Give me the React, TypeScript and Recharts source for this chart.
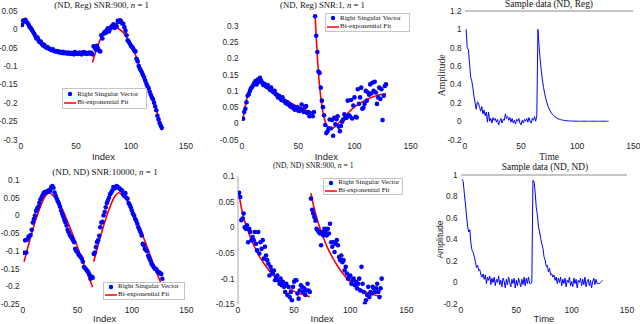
import React from "react";
import { ComposedChart, Scatter, Line, XAxis, YAxis, ReferenceLine } from "recharts";

// ── Data (index 1..128) ───────────────────────────────────────────────────────
const INDEX_TICKS = [0, 50, 100, 150];
const LEGEND_LABELS = ["Right Singular Vector", "Bi-exponential Fit"];

// (ND, Reg) SNR:900
const P1_VECTOR = [
  0.012, 0.024, 0.022, 0.026, 0.02, 0.017, 0.012, 0.006, 0.003, -0.002,
  -0.007, -0.012, -0.018, -0.025, -0.022, -0.03, -0.035, -0.033, -0.04, -0.044,
  -0.042, -0.047, -0.05, -0.048, -0.052, -0.053, -0.055, -0.057, -0.054, -0.058,
  -0.06, -0.059, -0.061, -0.06, -0.063, -0.062, -0.064, -0.061, -0.065, -0.063,
  -0.064, -0.066, -0.063, -0.065, -0.067, -0.064, -0.066, -0.068, -0.062, -0.065,
  -0.067, -0.064, -0.066, -0.063, -0.068, -0.065, -0.062, -0.066, -0.064, -0.067,
  -0.065, -0.063, -0.066, -0.064,
  -0.068, -0.046, -0.05, -0.055, -0.045, -0.052, -0.058, -0.06, -0.016, -0.025,
  -0.012, -0.007, -0.01, -0.002, 0.003, -0.006, 0.002, 0.006, 0.01, 0.014,
  0.004, 0.012, 0.008, 0.023, 0.02, 0.025, 0.022, 0.016, 0.015, 0.006,
  -0.004, -0.016, -0.03, -0.034, -0.039, -0.045, -0.048, -0.052, -0.058, -0.06,
  -0.08, -0.087, -0.1, -0.107, -0.112, -0.118, -0.125, -0.132, -0.14, -0.148,
  -0.155, -0.16, -0.17, -0.178, -0.185, -0.19, -0.2, -0.21, -0.22, -0.235,
  -0.245, -0.255, -0.262, -0.268,
];
const P1_FIT_A_X = [1, 3, 5, 8, 11, 14, 17, 20, 25, 30, 35, 40, 45, 50, 55, 60, 64];
const P1_FIT_A_Y = [0.012, 0.02, 0.022, 0.012, -0.003, -0.017, -0.029, -0.038, -0.049, -0.056, -0.06, -0.063, -0.064, -0.065, -0.065, -0.065, -0.065];
const P1_FIT_B_X = [65, 67, 69, 71, 73, 75, 78, 82, 86, 90, 93, 96, 99, 102, 105, 108, 111, 114, 117, 120, 123, 126, 128];
const P1_FIT_B_Y = [-0.09, -0.07, -0.052, -0.035, -0.022, -0.012, -0.002, 0.005, 0.004, -0.001, -0.009, -0.022, -0.038, -0.055, -0.076, -0.1, -0.122, -0.143, -0.168, -0.193, -0.22, -0.248, -0.275];

// (ND, Reg) SNR:1
const P2_VECTOR = [
  0.014, 0.035, 0.045, 0.065, 0.085, 0.09, 0.1, 0.108, 0.112, 0.118,
  0.125, 0.13, 0.12, 0.135, 0.128, 0.14, 0.132, 0.125, 0.118, 0.122,
  0.115, 0.112, 0.118, 0.108, 0.103, 0.11, 0.1, 0.096, 0.1, 0.09,
  0.088, 0.08, 0.085, 0.078, 0.072, 0.08, 0.07, 0.068, 0.062, 0.066,
  0.058, 0.06, 0.052, 0.055, 0.048, 0.05, 0.042, 0.047, 0.05, 0.04,
  0.038, 0.045, 0.058, 0.04, 0.035, 0.05, 0.053, 0.032, 0.035, 0.022,
  0.028, 0.03, 0.022, 0.035,
  0.33, 0.27, 0.22, 0.16, 0.155, 0.11, 0.07, 0.05, 0.025, -0.005,
  -0.03, -0.025, -0.015, 0.012, -0.016, 0.01, -0.038, 0.017, -0.003, 0.013,
  0.022, -0.01, -0.024, -0.008, 0.005, 0.012, 0.028, 0.018, 0.017, 0.07,
  0.025, 0.022, 0.072, 0.015, 0.055, 0.08, 0.02, 0.018, 0.105, 0.06,
  0.08, 0.11, 0.045, 0.048, 0.06, 0.1, 0.07, 0.095, 0.088, 0.12,
  0.092, 0.125, 0.1, 0.128, 0.095, 0.06, 0.08, 0.11, 0.075, 0.105,
  0.01, 0.085, 0.115, 0.12,
];
const P2_FIT_A_X = [1, 2, 3, 4, 5, 6, 8, 10, 12, 14, 16, 20, 25, 30, 35, 40, 45, 50, 55, 60, 64];
const P2_FIT_A_Y = [0.015, 0.035, 0.055, 0.072, 0.086, 0.097, 0.11, 0.119, 0.124, 0.126, 0.126, 0.12, 0.108, 0.095, 0.082, 0.07, 0.06, 0.051, 0.043, 0.036, 0.03];
const P2_FIT_B_X = [65, 66, 67, 68, 69, 70, 71, 72, 73, 74, 76, 78, 80, 82, 84, 86, 88, 90, 93, 96, 100, 104, 108, 112, 116, 120, 124, 128];
const P2_FIT_B_Y = [0.335, 0.265, 0.205, 0.155, 0.115, 0.082, 0.055, 0.034, 0.018, 0.005, -0.01, -0.016, -0.016, -0.012, -0.006, 0.001, 0.009, 0.016, 0.027, 0.038, 0.05, 0.06, 0.068, 0.075, 0.081, 0.086, 0.089, 0.092];

// Sample data (ND, Reg)
const P3_SIGNAL = [
  1.0, 0.8, 0.78, 0.64, 0.48, 0.44, 0.37, 0.27, 0.2, 0.13,
  0.21, 0.2, 0.15, 0.11, 0.16, 0.08, 0.12, 0.06, 0.1, -0.01,
  0.1, 0.0, 0.03, -0.02, 0.04, 0.01, 0.03, -0.01, 0.02, -0.04,
  0.0, 0.03, -0.02, 0.02, 0.01, 0.08, 0.03, 0.05, 0.01, 0.04,
  -0.01, 0.03, -0.02, 0.01, -0.03, 0.02, 0.0, 0.03, -0.02, -0.04,
  0.01, -0.02, 0.02, 0.0, 0.03, -0.01, 0.04, 0.0, -0.02, 0.03,
  0.01, 0.05, 0.0, 0.06,
  1.0, 0.82, 0.67, 0.55, 0.45, 0.37, 0.3, 0.25, 0.2, 0.165,
  0.135, 0.11, 0.09, 0.074, 0.06, 0.05, 0.041, 0.033, 0.027, 0.022,
  0.018, 0.015, 0.012, 0.01, 0.008, 0.007, 0.005, 0.004, 0.003, 0.003,
  0.002, 0.002, 0.001, 0.001, 0.001, 0.001, 0, 0, 0, 0,
  0, 0, 0, 0, 0, 0, 0, 0, 0, 0,
  0, 0, 0, 0, 0, 0, 0, 0, 0, 0,
  0, 0, 0, 0,
];

// (ND, ND) SNR:10000
const P4_VECTOR = [
  -0.105, -0.07, -0.104, -0.068, -0.06, -0.058, -0.055, -0.04, -0.02, -0.01,
  0.0, 0.013, 0.02, 0.024, 0.035, 0.045, 0.05, 0.057, 0.063, 0.066,
  0.064, 0.068, 0.066, 0.072, 0.07, 0.08, 0.083, 0.078, 0.065, 0.056,
  0.047, 0.04, 0.033, 0.025, 0.014, 0.005, -0.003, -0.012, -0.019, -0.028,
  -0.04, -0.047, -0.055, -0.06, -0.063, -0.07, -0.075, -0.094, -0.1, -0.103,
  -0.11, -0.113, -0.117, -0.122, -0.13, -0.145, -0.148, -0.152, -0.156, -0.16,
  -0.167, -0.178, -0.172, -0.175,
  -0.108, -0.104, -0.089, -0.075, -0.07, -0.057, -0.033, -0.02, -0.018, 0.0,
  0.01, 0.023, 0.035, 0.042, 0.05, 0.06, 0.065, 0.07, 0.08, 0.076,
  0.078, 0.083, 0.08, 0.078, 0.075, 0.072, 0.07, 0.06, 0.055, 0.063,
  0.05, 0.047, 0.035, 0.03, 0.023, 0.014, 0.005, 0.0, -0.009, -0.015,
  -0.023, -0.033, -0.04, -0.047, -0.056, -0.08, -0.084, -0.094, -0.098, -0.1,
  -0.113, -0.12, -0.127, -0.136, -0.14, -0.145, -0.15, -0.15, -0.155, -0.16,
  -0.16, -0.163, -0.165, -0.178,
];
const P4_FIT_A_X = [1, 4, 8, 12, 16, 20, 22, 24, 28, 32, 36, 40, 44, 48, 52, 56, 60, 64];
const P4_FIT_A_Y = [-0.13, -0.095, -0.05, -0.01, 0.025, 0.052, 0.06, 0.064, 0.055, 0.04, 0.018, -0.01, -0.04, -0.072, -0.105, -0.138, -0.17, -0.202];
const P4_FIT_B_X = [65, 68, 72, 76, 80, 84, 86, 88, 92, 96, 100, 104, 108, 112, 116, 120, 124, 128];
const P4_FIT_B_Y = [-0.13, -0.095, -0.05, -0.01, 0.025, 0.052, 0.06, 0.064, 0.055, 0.04, 0.018, -0.01, -0.04, -0.072, -0.105, -0.138, -0.17, -0.2];

// (ND, ND) SNR:900
const P5_VECTOR = [
  0.0675, 0.059, 0.014, 0.017, 0.027, 0.0, -0.003, 0.004, -0.029, -0.003,
  -0.009, -0.025, -0.019, -0.025, -0.009, -0.032, -0.045, -0.009, -0.051, -0.029,
  -0.042, -0.025, -0.061, -0.038, -0.055, -0.064, -0.071, -0.094, -0.077, -0.084,
  -0.09, -0.084, -0.103, -0.097, -0.094, -0.103, -0.11, -0.1, -0.113, -0.106,
  -0.116, -0.126, -0.11, -0.132, -0.116, -0.136, -0.126, -0.142, -0.116, -0.106,
  -0.103, -0.103, -0.129, -0.139, -0.123, -0.113, -0.116, -0.126, -0.119, -0.132,
  -0.123, -0.11, -0.123, -0.126,
  0.056, 0.034, 0.027, 0.02, 0.013, -0.003, -0.006, -0.009, -0.012, -0.035,
  -0.009, -0.016, -0.003, -0.009, -0.016, -0.003, -0.012, 0.007, -0.029, -0.038,
  -0.029, -0.048, -0.032, -0.025, -0.035, -0.058, -0.064, -0.055, -0.068, -0.064,
  -0.084, -0.077, -0.09, -0.1, -0.097, -0.094, -0.11, -0.103, -0.1, -0.113,
  -0.106, -0.119, -0.11, -0.1, -0.123, -0.077, -0.11, -0.126, -0.149, -0.142,
  -0.132, -0.116, -0.136, -0.126, -0.129, -0.116, -0.119, -0.126, -0.119, -0.11,
  -0.126, -0.136, -0.119, -0.1,
];
const P5_FIT_A_X = [1, 2, 4, 6, 8, 10, 12, 14, 16, 20, 24, 28, 32, 36, 40, 44, 48, 52, 56, 60, 64];
const P5_FIT_A_Y = [0.065, 0.05, 0.028, 0.012, -0.002, -0.014, -0.025, -0.035, -0.044, -0.06, -0.073, -0.085, -0.095, -0.104, -0.111, -0.117, -0.122, -0.127, -0.13, -0.133, -0.135];
const P5_FIT_B_X = [65, 66, 68, 70, 72, 74, 76, 78, 80, 84, 88, 92, 96, 100, 104, 108, 112, 116, 120, 124, 128];
const P5_FIT_B_Y = [0.066, 0.055, 0.036, 0.02, 0.005, -0.008, -0.02, -0.031, -0.041, -0.058, -0.073, -0.086, -0.097, -0.106, -0.113, -0.119, -0.124, -0.128, -0.131, -0.133, -0.135];

// Sample data (ND, ND)
const P6_SIGNAL = [
  0.96, 0.94, 0.83, 0.73, 0.62, 0.52, 0.47, 0.49, 0.36, 0.3,
  0.28, 0.24, 0.19, 0.14, 0.16, 0.11, 0.12, 0.07, 0.05, 0.08,
  0.03, 0.07, -0.01, 0.05, 0.02, 0.06, -0.02, 0.04, 0.0, 0.05,
  -0.03, 0.03, 0.0, 0.06, -0.02, 0.02, -0.04, 0.04, 0.01, -0.05,
  0.03, -0.02, 0.05, 0.0, -0.04, 0.03, -0.01, 0.04, -0.05, 0.02,
  -0.03, 0.04, 0.0, -0.04, 0.03, -0.02, 0.05, -0.03, 0.04, -0.01,
  0.05, -0.01, -0.01, 0.0,
  0.95, 0.94, 0.84, 0.7, 0.63, 0.52, 0.47, 0.41, 0.36, 0.32,
  0.24, 0.21, 0.15, 0.16, 0.1, 0.13, 0.07, 0.08, 0.05, 0.07,
  0.02, 0.05, -0.01, 0.04, 0.0, 0.05, -0.03, 0.03, -0.01, 0.04,
  -0.04, 0.02, 0.0, 0.05, -0.03, 0.01, -0.04, 0.04, -0.01, 0.03,
  -0.05, 0.02, 0.0, 0.04, -0.03, 0.03, -0.02, 0.05, -0.04, 0.01,
  0.03, -0.03, 0.02, -0.05, 0.01, 0.04, -0.02, 0.03, -0.01, -0.01,
  -0.01, 0.0, 0.01, 0.02,
];

const P1_Y_TICKS = [-0.3, -0.25, -0.2, -0.15, -0.1, -0.05, 0, 0.05];
const P2_Y_TICKS = [-0.05, 0, 0.05, 0.1, 0.15, 0.2, 0.25, 0.3];
const P3_Y_TICKS = [-0.2, 0, 0.2, 0.4, 0.6, 0.8, 1, 1.2];
const P4_Y_TICKS = [-0.25, -0.2, -0.15, -0.1, -0.05, 0, 0.05, 0.1];
const P5_Y_TICKS = [-0.15, -0.1, -0.05, 0, 0.05, 0.1];
const P6_Y_TICKS = [-0.2, 0, 0.2, 0.4, 0.6, 0.8, 1];

// ── Styling ───────────────────────────────────────────────────────────────────
const BLUE = "#0000ff";
const RED = "#ff0000";
const INK = "#262626";
const FRAME = "#8c8c8c";
const SANS = '"Liberation Sans", Arial, sans-serif';
const SERIF = '"Liberation Serif", "Times New Roman", serif';

const M_TOP = 4;
const M_RIGHT = 10;
const X_AXIS_H = 22;

const byIndex = (values: number[]) => values.map((y, i) => ({ x: i + 1, y }));
const pairs = (xs: number[], ys: number[]) => xs.map((x, i) => ({ x, y: ys[i] }));
const fmt = (v: number) => String(Number(v.toFixed(2)));

const dot = (p: any) => <circle cx={p.cx} cy={p.cy} r={2.3} fill={BLUE} />;

type Frame = { L: number; T: number; R: number; B: number; yW: number };

interface PanelProps {
  frame: Frame;
  yDomain: [number, number];
  yTicks: number[];
  xLabel: string;
  xLabelFont: string;
  xLabelOffset?: number;
  yLabel?: string;
  yLabelFont?: string;
  yLabelSize?: number;
  leftLine?: boolean;
  topLine?: boolean;
  children: React.ReactNode;
}

function Panel({ frame, yDomain, yTicks, xLabel, xLabelFont, xLabelOffset = 2, yLabel, yLabelFont, yLabelSize, leftLine, topLine, children }: PanelProps) {
  const width = frame.yW + (frame.R - frame.L) + M_RIGHT;
  const height = M_TOP + (frame.B - frame.T) + X_AXIS_H;
  return (
    <div style={{ position: "absolute", left: frame.L - frame.yW, top: frame.T - M_TOP }}>
      <ComposedChart width={width} height={height} margin={{ top: M_TOP, right: M_RIGHT, bottom: 0, left: 0 }}>
        <XAxis
          type="number"
          dataKey="x"
          domain={[0, 150]}
          ticks={INDEX_TICKS}
          allowDataOverflow
          axisLine={false}
          tickLine={false}
          tickSize={2}
          tickMargin={1}
          height={X_AXIS_H}
          tick={{ fontSize: 8.6, fill: INK, fontFamily: SANS }}
          label={{ value: xLabel, position: "insideBottom", offset: xLabelOffset, style: { fontSize: 9.5, fill: INK, fontFamily: xLabelFont } }}
        />
        <YAxis
          type="number"
          domain={yDomain}
          ticks={yTicks}
          allowDataOverflow
          width={frame.yW}
          axisLine={leftLine ? { stroke: "#a6a6a6" } : false}
          tickLine={false}
          tickSize={2}
          tickMargin={1.5}
          tickFormatter={fmt}
          tick={{ fontSize: 8.2, fill: INK, fontFamily: SANS }}
          label={
            yLabel
              ? {
                  value: yLabel,
                  angle: -90,
                  position: "insideLeft",
                  offset: 9,
                  style: { textAnchor: "middle", fontSize: yLabelSize, fill: INK, fontFamily: yLabelFont },
                }
              : undefined
          }
        />
        {topLine && <ReferenceLine y={yDomain[1]} stroke={FRAME} strokeWidth={1} ifOverflow="visible" />}
        {children}
      </ComposedChart>
    </div>
  );
}

function Title({ cx, cy, size, children }: { cx: number; cy: number; size: number; children: React.ReactNode }) {
  return (
    <div
      style={{
        position: "absolute",
        left: cx,
        top: cy,
        transform: "translate(-50%, -50%)",
        fontFamily: SERIF,
        fontSize: size,
        lineHeight: 1,
        whiteSpace: "nowrap",
        color: "#111",
      }}
    >
      {children}
    </div>
  );
}

function FitLegend({ x, y, w, h }: { x: number; y: number; w: number; h: number }) {
  return (
    <div
      style={{
        position: "absolute",
        left: x,
        top: y,
        width: w,
        height: h,
        boxSizing: "border-box",
        border: "1px solid #c4c4c4",
        background: "#fff",
        display: "flex",
        flexDirection: "column",
        justifyContent: "center",
        fontFamily: SERIF,
        fontSize: 7,
        color: "#111",
      }}
    >
      {LEGEND_LABELS.map((label, i) => (
        <div key={label} style={{ display: "flex", alignItems: "center", height: 8.4 }}>
          <svg width={14} height={8} style={{ flex: "none" }}>
            {i === 0 ? (
              <circle cx={7} cy={4} r={2.2} fill={BLUE} />
            ) : (
              <line x1={1} x2={13} y1={4} y2={4} stroke={RED} strokeWidth={1.5} />
            )}
          </svg>
          <span style={{ whiteSpace: "nowrap", lineHeight: 1 }}>{label}</span>
        </div>
      ))}
    </div>
  );
}

function vectorSeries(values: number[], ax: number[], ay: number[], bx: number[], by: number[]) {
  return [
    <Scatter key="pts" data={byIndex(values)} dataKey="y" shape={dot} isAnimationActive={false} />,
    <Line key="fa" data={pairs(ax, ay)} dataKey="y" type="monotone" stroke={RED} strokeWidth={1.6} dot={false} isAnimationActive={false} />,
    <Line key="fb" data={pairs(bx, by)} dataKey="y" type="monotone" stroke={RED} strokeWidth={1.6} dot={false} isAnimationActive={false} />,
  ];
}

function signalSeries(values: number[]) {
  return <Line data={byIndex(values)} dataKey="y" type="linear" stroke={BLUE} strokeWidth={1} dot={false} isAnimationActive={false} />;
}

export default function App() {
  return (
    <div style={{ position: "absolute", left: 0, top: 0, width: 640, height: 324, background: "#fff", overflow: "hidden" }}>
      <Panel frame={{ L: 21, T: 10.7, R: 186, B: 139.3, yW: 21 }} yDomain={[-0.3, 0.05]} yTicks={P1_Y_TICKS} xLabel="Index" xLabelFont={SANS}>
        {vectorSeries(P1_VECTOR, P1_FIT_A_X, P1_FIT_A_Y, P1_FIT_B_X, P1_FIT_B_Y)}
      </Panel>
      <Panel frame={{ L: 242.3, T: 12.7, R: 411, B: 139.3, yW: 30 }} yDomain={[-0.05, 0.34]} yTicks={P2_Y_TICKS} xLabel="Index" xLabelFont={SANS}>
        {vectorSeries(P2_VECTOR, P2_FIT_A_X, P2_FIT_A_Y, P2_FIT_B_X, P2_FIT_B_Y)}
      </Panel>
      <Panel
        frame={{ L: 465, T: 10.7, R: 633.3, B: 139.3, yW: 32 }}
        yDomain={[-0.2, 1.2]}
        yTicks={P3_Y_TICKS}
        xLabel="Time"
        xLabelFont={SERIF}
        yLabel="Amplitude"
        yLabelFont={SERIF}
        yLabelSize={9.8}
        topLine
      >
        {signalSeries(P3_SIGNAL)}
      </Panel>
      <Panel frame={{ L: 22.7, T: 180, R: 186, B: 304.3, yW: 22 }} yDomain={[-0.25, 0.1]} yTicks={P4_Y_TICKS} xLabel="Index" xLabelFont={SANS} xLabelOffset={4}>
        {vectorSeries(P4_VECTOR, P4_FIT_A_X, P4_FIT_A_Y, P4_FIT_B_X, P4_FIT_B_Y)}
      </Panel>
      <Panel frame={{ L: 238.3, T: 175.7, R: 406.7, B: 304, yW: 30 }} yDomain={[-0.15, 0.1]} yTicks={P5_Y_TICKS} xLabel="Index" xLabelFont={SANS} xLabelOffset={4} leftLine>
        {vectorSeries(P5_VECTOR, P5_FIT_A_X, P5_FIT_A_Y, P5_FIT_B_X, P5_FIT_B_Y)}
      </Panel>
      <Panel
        frame={{ L: 460.7, T: 175, R: 626.7, B: 304, yW: 30 }}
        yDomain={[-0.2, 1]}
        yTicks={P6_Y_TICKS}
        xLabel="Time"
        xLabelFont={SANS}
        xLabelOffset={4}
        yLabel="Amplitude"
        yLabelFont={SANS}
        yLabelSize={8.6}
        topLine
      >
        {signalSeries(P6_SIGNAL)}
      </Panel>

      {/* legends */}
      <FitLegend x={62.3} y={87.7} w={84.4} h={21.3} />
      <FitLegend x={325} y={13} w={85} h={19} />
      <FitLegend x={103} y={281.7} w={82} h={18.3} />
      <FitLegend x={323.3} y={178.3} w={80} h={16.7} />

      {/* titles */}
      <Title cx={101.7} cy={5} size={8.8}>(ND, Reg) SNR:900, <i>n</i> = 1</Title>
      <Title cx={322.5} cy={5} size={8.7}>(ND, Reg) SNR:1, <i>n</i> = 1</Title>
      <Title cx={549} cy={5.4} size={9.4}>Sample data (ND, Reg)</Title>
      <Title cx={105} cy={173.3} size={9.1}>(ND, ND) SNR:10000, <i>n</i> = 1</Title>
      <Title cx={313.3} cy={166} size={7.6}>(ND, ND) SNR:900, <i>n</i> = 1</Title>
      <Title cx={545} cy={168.3} size={9.4}>Sample data (ND, ND)</Title>
    </div>
  );
}
